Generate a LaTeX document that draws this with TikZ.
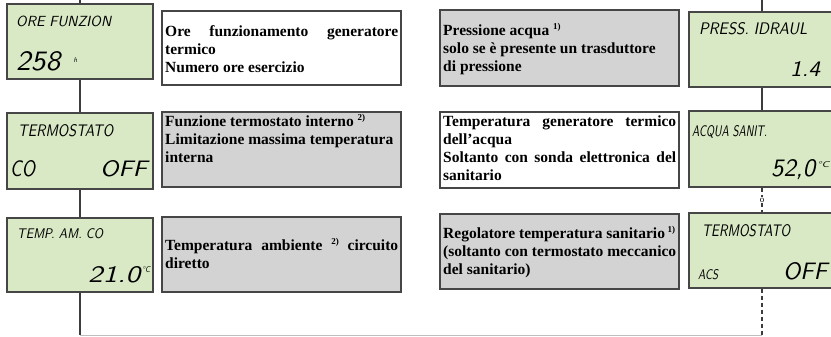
\documentclass[tikz,border=0pt]{standalone}
\usepackage{fontspec}
\setmainfont{Liberation Serif}
\newfontfamily\lcdfont{lmsans10-oblique.otf}
\definecolor{lcdgreen}{RGB}{217,232,197}
\definecolor{boxgrey}{RGB}{211,211,211}
\definecolor{bordergrey}{RGB}{70,70,70}
\definecolor{linegrey}{RGB}{60,60,60}
\definecolor{lightline}{RGB}{190,190,190}
\newcommand\supnum[1]{\raisebox{5.5pt}{\fontsize{9}{9}\selectfont #1}}
\newcommand\lcdtxt[3]{\resizebox{#1pt}{#2pt}{\lcdfont #3}}
\tikzset{
  lcd/.style={draw=bordergrey, line width=1.1pt, fill=lcdgreen, minimum width=146pt, inner sep=0pt},
  infobox/.style={draw=bordergrey, line width=1.1pt, minimum width=239pt, inner sep=0pt},
  greybox/.style={infobox, fill=boxgrey},
  whitebox/.style={infobox, fill=white},
  lcdlabel/.style={inner sep=0pt, anchor=south west},
  infotext/.style={inner sep=0pt, anchor=north west, align=left,
    font=\fontsize{15.5}{18}\selectfont\bfseries},
  conn/.style={draw=linegrey, line width=1.3pt},
  dashconn/.style={conn, dash pattern=on 4pt off 3pt},
  bottomline/.style={draw=lightline, line width=1pt}
}
\newcommand\fl{\rule{0pt}{12pt}}
\begin{document}
\begin{tikzpicture}[x=1pt,y=-1pt]
\useasboundingbox (0,0) rectangle (831,337);
\clip (0,0) rectangle (831,337);

\coordinate (Ltop) at (80,0);
\coordinate (Lbot) at (80,335);
\coordinate (Rtop) at (762,0);
\coordinate (Rbot) at (762,335);

\node[lcd, minimum height=75pt] (L1) at (80,41.5) {};
\node[lcd, minimum height=76pt] (L2) at (80,151) {};
\node[lcd, minimum height=74pt] (L3) at (80,255) {};

\node[lcd, minimum height=75pt] (R1) at (762,49.5) {};
\node[lcd, minimum height=76pt] (R2) at (762,149) {};
\node[lcd, minimum height=75pt] (R3) at (762,250.5) {};

\node[inner sep=1pt, font=\fontsize{9}{9}\selectfont] (o) at (762,200) {o};

\draw[bottomline] (Lbot) -- (Rbot);
\draw[conn] (Ltop) -- (L1);
\draw[conn] (L1) -- (L2);
\draw[conn] (L2) -- (L3);
\draw[conn] (L3) -- (Lbot);
\draw[conn] (Rtop) -- (R1);
\draw[conn] (R1) -- (R2);
\draw[dashconn] (R2) -- (o);
\draw[dashconn] (o) -- (R3);
\draw[dashconn] (R3) -- (Rbot);

% LCD labels left
\node[lcdlabel] (l1a) at (16,27) {\lcdtxt{95}{10.5}{ORE FUNZION}};
\node[lcdlabel] (l1b) at (16,71) {\lcdtxt{44}{19}{258}};
\node[lcdlabel] (l1c) at (73.5,63) {\lcdtxt{3.5}{5}{h}};
\node[lcdlabel] (l2a) at (18,137) {\lcdtxt{95}{12}{TERMOSTATO}};
\node[lcdlabel] (l2b) at (10,177) {\lcdtxt{25}{16}{CO}};
\node[lcdlabel] (l2c) at (100,177) {\lcdtxt{47}{16}{OFF}};
\node[lcdlabel] (l3a) at (17,239) {\lcdtxt{86}{10}{TEMP. AM. CO}};
\node[lcdlabel] (l3b) at (88,283) {\lcdtxt{52}{16}{21.0}};
\node[lcdlabel] (l3c) at (142,273) {\lcdtxt{8}{6}{°C}};

% LCD labels right
\node[lcdlabel] (r1a) at (699,35) {\lcdtxt{108}{12}{PRESS. IDRAUL}};
\node[lcdlabel] (r1b) at (790,77) {\lcdtxt{30}{15}{1.4}};
\node[lcdlabel] (r2a) at (692,139) {\lcdtxt{75}{11}{ACQUA SANIT.}};
\node[lcdlabel] (r2b) at (771,180) {\lcdtxt{44}{17}{52,0}};
\node[lcdlabel] (r2c) at (817,168) {\lcdtxt{12}{6}{°C}};
\node[lcdlabel] (r3a) at (702,237) {\lcdtxt{88}{12}{TERMOSTATO}};
\node[lcdlabel] (r3b) at (698,280) {\lcdtxt{20}{10}{ACS}};
\node[lcdlabel] (r3c) at (783,280) {\lcdtxt{44}{17}{OFF}};

% info boxes left
\node[whitebox, minimum height=74pt] (T1) at (281.5,48) {};
\node[greybox, minimum height=75pt] (T2) at (281.5,149.5) {};
\node[greybox, minimum height=75pt] (T3) at (281.5,254.5) {};
% info boxes right
\node[greybox, minimum height=76pt] (U1) at (559.5,48) {};
\node[whitebox, minimum height=76pt] (U2) at (559.5,150) {};
\node[greybox, minimum height=75pt] (U3) at (559.5,251.5) {};

\node[infotext] (t1) at (165,24) {\fl\makebox[233pt][s]{Ore funzionamento generatore}\\termico\\Numero ore esercizio};
\node[infotext] (t2) at (165,114) {\fl Funzione termostato interno \supnum{2)}\\Limitazione massima temperatura\\interna};
\node[infotext] (t3) at (165,238) {\fl\makebox[233pt][s]{Temperatura ambiente \supnum{2)} circuito}\\diretto};

\node[infotext] (u1) at (443,23) {\fl Pressione acqua \supnum{1)}\\solo se è presente un trasduttore\\di pressione};
\node[infotext] (u2) at (443,114) {\fl\makebox[233pt][s]{Temperatura generatore termico}\\dell’acqua\\\makebox[233pt][s]{Soltanto con sonda elettronica del}\\sanitario};
\node[infotext] (u3) at (443,226) {\fl Regolatore temperatura sanitario\,\supnum{1)}\\\makebox[233pt][s]{(soltanto con termostato meccanico}\\del sanitario)};
\end{tikzpicture}
\end{document}
